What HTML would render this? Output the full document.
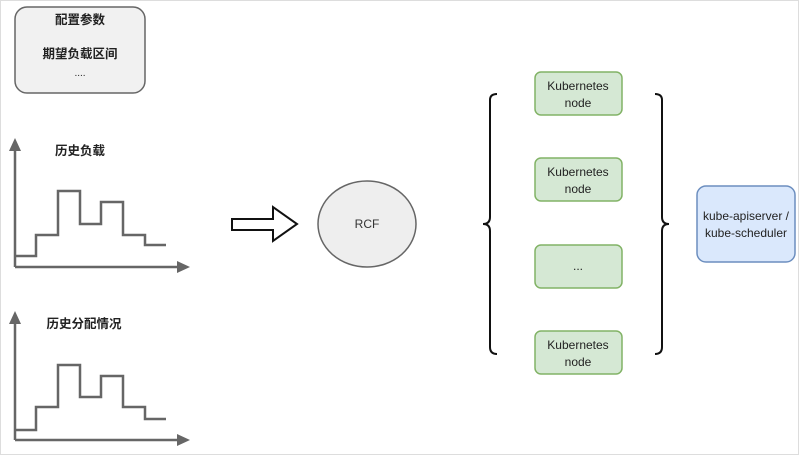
<!DOCTYPE html>
<html><head><meta charset="utf-8"><style>
html,body{margin:0;padding:0;background:#fff;}
svg{display:block;}
text{font-family:"Liberation Sans","Noto Sans CJK SC",sans-serif;}
</style></head><body>
<svg width="800" height="456" viewBox="0 0 800 456" xmlns="http://www.w3.org/2000/svg">
<rect x="0.5" y="0.5" width="798" height="454" fill="#fff" stroke="#ddd"/>
<rect x="15" y="7" width="130" height="86" rx="12" fill="#f1f1f1" stroke="#666" stroke-width="1.5"/>
<text x="80" y="24" font-size="12.5" font-weight="bold" text-anchor="middle" fill="#222">配置参数</text>
<text x="80" y="58" font-size="12.5" font-weight="bold" text-anchor="middle" fill="#222">期望负载区间</text>
<text x="80" y="76" font-size="10" text-anchor="middle" fill="#222">....</text>
<g stroke="#666" stroke-width="2.5" fill="none">
<line x1="15" y1="267" x2="15" y2="146"/><line x1="15" y1="267" x2="182" y2="267"/>
<polyline points="15,256 36,256 36,235 58,235 58,191 80,191 80,224 101,224 101,202 123,202 123,235 145,235 145,245 166,245"/>
<line x1="15" y1="440" x2="15" y2="319"/><line x1="15" y1="440" x2="182" y2="440"/>
<polyline points="15,430 36,430 36,407 58,407 58,365 80,365 80,397 101,397 101,376 123,376 123,407 145,407 145,419 166,419"/>
</g>
<g fill="#666">
<polygon points="15,138 9,151 21,151"/><polygon points="190,267 177,261 177,273"/>
<polygon points="15,311 9,324 21,324"/><polygon points="190,440 177,434 177,446"/>
</g>
<text x="80" y="155" font-size="12.5" font-weight="bold" text-anchor="middle" fill="#222">历史负载</text>
<text x="84" y="328" font-size="12.5" font-weight="bold" text-anchor="middle" fill="#222">历史分配情况</text>
<polygon points="232,219 273,219 273,207 297,224 273,241 273,230 232,230" fill="#fff" stroke="#111" stroke-width="2"/>
<ellipse cx="367" cy="224" rx="49" ry="43" fill="#eee" stroke="#666" stroke-width="1.5"/>
<text x="367" y="228" font-size="12" text-anchor="middle" fill="#333">RCF</text>
<g stroke="#111" stroke-width="2" fill="none">
<path d="M497,94 Q490,94 490,100 L490,217 Q490,224 483,224 Q490,224 490,231 L490,347 Q490,354 497,354"/>
<path d="M655,94 Q662,94 662,100 L662,217 Q662,224 669,224 Q662,224 662,231 L662,347 Q662,354 655,354"/>
</g>
<g fill="#d5e8d4" stroke="#82b366" stroke-width="1.5">
<rect x="535" y="72" width="87" height="43" rx="6"/>
<rect x="535" y="158" width="87" height="43" rx="6"/>
<rect x="535" y="245" width="87" height="43" rx="6"/>
<rect x="535" y="331" width="87" height="43" rx="6"/>
</g>
<g font-size="12" text-anchor="middle" fill="#222">
<text x="578" y="90">Kubernetes</text><text x="578" y="107">node</text>
<text x="578" y="176">Kubernetes</text><text x="578" y="193">node</text>
<text x="578" y="270">...</text>
<text x="578" y="349">Kubernetes</text><text x="578" y="366">node</text>
</g>
<rect x="697" y="186" width="98" height="76" rx="9" fill="#dae8fc" stroke="#6c8ebf" stroke-width="1.5"/>
<text x="746" y="220" font-size="12" text-anchor="middle" fill="#222">kube-apiserver /</text>
<text x="746" y="237" font-size="12" text-anchor="middle" fill="#222">kube-scheduler</text>
</svg>
</body></html>
